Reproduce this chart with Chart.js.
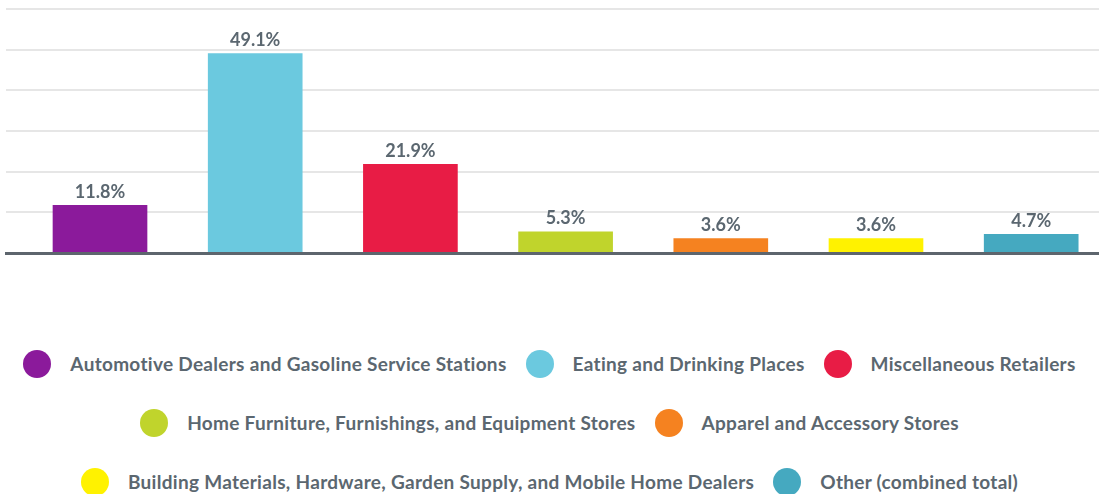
<!DOCTYPE html>
<html>
<head>
<meta charset="utf-8">
<script src="https://cdn.jsdelivr.net/npm/chart.js@4"></script>
<style>
  html, body { margin: 0; padding: 0; background: #fff; overflow: hidden; }
  #wrap { position: relative; width: 1099px; height: 494px; }
  #chartBox { position: absolute; left: 0; top: 0; width: 1099px; height: 262px; }
  #legend {
    position: absolute; left: 0; top: 334px; width: 1099px;
    display: flex; flex-wrap: wrap; justify-content: center; column-gap: 19px;
    font-family: Lato, sans-serif; font-weight: 700; font-size: 19px; letter-spacing: 0.3px; color: #5b6770;
  }
  #legend .item { display: flex; align-items: center; height: 59px; white-space: nowrap; }
  #legend .dot { width: 28px; height: 28px; border-radius: 50%; margin-right: 19px; flex: none; }
</style>
</head>
<body>
<div id="wrap">
  <div id="chartBox"><canvas id="myChart"></canvas></div>
  <div id="legend"></div>
</div>
<script>
Chart.defaults.font.family = 'Lato, sans-serif';

var categories = [
  'Automotive Dealers and Gasoline Service Stations',
  'Eating and Drinking Places',
  'Miscellaneous Retailers',
  'Home Furniture, Furnishings, and Equipment Stores',
  'Apparel and Accessory Stores',
  'Building Materials, Hardware, Garden Supply, and Mobile Home Dealers',
  'Other (combined total)'
];
var shares = [11.8, 49.1, 21.9, 5.3, 3.6, 3.6, 4.7];
var colors = ['#8b1a9b', '#6bc9df', '#e81c45', '#c0d42c', '#f58220', '#fff200', '#45a9c0'];

// value labels on top of the bars
var barLabels = {
  id: 'barLabels',
  afterDatasetsDraw: function(chart) {
    var ctx = chart.ctx;
    var meta = chart.getDatasetMeta(0);
    ctx.save();
    ctx.font = 'bold 18px Lato, sans-serif';
    ctx.fillStyle = '#5b6770';
    ctx.textAlign = 'center';
    ctx.textBaseline = 'alphabetic';
    meta.data.forEach(function(bar, i) {
      ctx.fillText(shares[i].toFixed(1) + '%', bar.x, bar.y - 7);
    });
    ctx.restore();
  }
};

// html legend built from the chart's data
var htmlLegend = {
  id: 'htmlLegend',
  afterUpdate: function(chart) {
    var box = document.getElementById('legend');
    box.innerHTML = '';
    var ds = chart.data.datasets[0];
    categories.forEach(function(name, i) {
      var item = document.createElement('div');
      item.className = 'item';
      var dot = document.createElement('span');
      dot.className = 'dot';
      dot.style.background = ds.backgroundColor[i];
      var txt = document.createElement('span');
      txt.textContent = name;
      item.appendChild(dot);
      item.appendChild(txt);
      box.appendChild(item);
    });
  }
};

var myChart = new Chart(document.getElementById('myChart'), {
  type: 'bar',
  data: {
    datasets: [{
      label: 'Share',
      data: shares.map(function(v, i) { return {x: i, y: v}; }),
      backgroundColor: colors,
      borderWidth: 0,
      categoryPercentage: 1,
      barPercentage: 0.61
    }]
  },
  options: {
    responsive: true,
    maintainAspectRatio: false,
    animation: false,
    layout: { padding: { top: 9, left: 6, right: 0, bottom: 9 } },
    plugins: {
      legend: { display: false },
      tooltip: { enabled: false }
    },
    scales: {
      x: {
        type: 'linear',
        min: -0.6057,
        max: 6.4369,
        offset: false,
        // one tick per category so bar width follows the category spacing
        afterBuildTicks: function(scale) {
          scale.ticks = categories.map(function(c, i) { return {value: i}; });
        },
        ticks: { display: false },
        grid: { display: false, drawTicks: false },
        border: { display: true, color: '#5d656d', width: 3 }
      },
      y: {
        min: 0,
        max: 60,
        ticks: { display: false, stepSize: 10 },
        grid: { color: '#e6e6e6', lineWidth: 2, drawTicks: false },
        border: { display: false }
      }
    }
  },
  plugins: [barLabels, htmlLegend]
});
</script>
</body>
</html>
